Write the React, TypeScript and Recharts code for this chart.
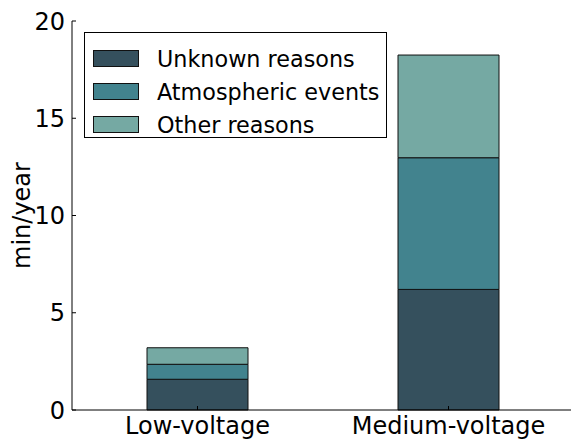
import { BarChart, Bar, XAxis, YAxis, Legend } from "recharts";

const categories = ["Low-voltage", "Medium-voltage"];
const unknownReasons = [1.58, 6.2];
const atmosphericEvents = [0.77, 6.77];
const otherReasons = [0.85, 5.28];
const yTicks = [0, 5, 10, 15, 20];

const seriesNames = ["Unknown reasons", "Atmospheric events", "Other reasons"];
const seriesColors = ["#35505d", "#42838e", "#75a9a3"];

const data = categories.map((name, i) => ({
  name,
  unknown: unknownReasons[i],
  atmos: atmosphericEvents[i],
  other: otherReasons[i],
}));

const FONT = "'DejaVu Sans', sans-serif";

function BottomTick(props: any) {
  const { x, y, payload } = props;
  return (
    <g>
      <line x1={x} x2={x} y1={y} y2={y - 4} stroke="#000" strokeWidth={1} />
      <text x={x} y={y + 24} textAnchor="middle" fontSize={24} fontFamily={FONT} fill="#000">
        {payload.value}
      </text>
    </g>
  );
}

function TopTick(props: any) {
  const { x, y } = props;
  return <line x1={x} x2={x} y1={y} y2={y + 4} stroke="#000" strokeWidth={1} />;
}

function LeftTick(props: any) {
  const { x, y, payload } = props;
  return (
    <g>
      <line x1={x} x2={x + 4} y1={y} y2={y} stroke="#000" strokeWidth={1} />
      <text x={x - 7} y={y + 8.5} textAnchor="end" fontSize={24} fontFamily={FONT} fill="#000">
        {payload.value}
      </text>
    </g>
  );
}

function RightTick(props: any) {
  const { x, y } = props;
  return <line x1={x} x2={x - 4} y1={y} y2={y} stroke="#000" strokeWidth={1} />;
}

function LegendBox() {
  return (
    <div
      style={{
        width: 303,
        height: 106,
        border: "1px solid #000",
        background: "#fff",
        boxSizing: "border-box",
        fontFamily: FONT,
        fontSize: 22,
        paddingTop: 9,
      }}
    >
      {seriesNames.map((n, i) => (
        <div key={n} style={{ display: "flex", alignItems: "center", height: 33 }}>
          <div
            style={{
              width: 46,
              height: 17,
              marginLeft: 8,
              marginRight: 18,
              background: seriesColors[i],
              border: "1px solid #111",
              boxSizing: "border-box",
            }}
          />
          <span style={{ lineHeight: "22px", fontSize: 22.3 }}>{n}</span>
        </div>
      ))}
    </div>
  );
}

export default function App() {
  return (
    <div style={{ position: "absolute", left: 0, top: 0, width: 571, height: 439, overflow: "hidden", background: "#fff" }}>
      <BarChart width={574} height={439} data={data} margin={{ top: 21, right: 0, bottom: 0, left: 0 }}>
        <XAxis
          dataKey="name"
          height={29}
          axisLine={{ stroke: "#000", strokeWidth: 1 }}
          tickLine={false}
          tickSize={0}
          tickMargin={0}
          tick={<BottomTick />}
          interval={0}
        />
        <XAxis
          xAxisId="top"
          dataKey="name"
          orientation="top"
          height={0}
          axisLine={{ stroke: "#000", strokeWidth: 1 }}
          tickLine={false}
          tickSize={0}
          tickMargin={0}
          tick={<TopTick />}
          interval={0}
        />
        <YAxis
          width={72}
          domain={[0, 20]}
          ticks={yTicks}
          axisLine={{ stroke: "#000", strokeWidth: 1 }}
          tickLine={false}
          tickSize={0}
          tickMargin={0}
          tick={<LeftTick />}
          label={{
            value: "min/year",
            angle: -90,
            position: "insideLeft",
            dx: 16,
            style: { fontSize: 24, fontFamily: FONT, fill: "#000", textAnchor: "middle" },
          }}
        />
        <YAxis
          yAxisId="right"
          orientation="right"
          width={0}
          domain={[0, 20]}
          ticks={yTicks}
          axisLine={false}
          tickLine={false}
          tickSize={0}
          tickMargin={0}
          tick={<RightTick />}
        />
        <Legend
          layout="vertical"
          align="center"
          verticalAlign="middle"
          content={<LegendBox />}
          wrapperStyle={{ left: 84, top: 32, width: 303 }}
        />
        <Bar dataKey="unknown" name={seriesNames[0]} stackId="a" fill={seriesColors[0]} stroke="#111" strokeWidth={1} barSize={101} isAnimationActive={false} />
        <Bar dataKey="atmos" name={seriesNames[1]} stackId="a" fill={seriesColors[1]} stroke="#111" strokeWidth={1} barSize={101} isAnimationActive={false} />
        <Bar dataKey="other" name={seriesNames[2]} stackId="a" fill={seriesColors[2]} stroke="#111" strokeWidth={1} barSize={101} isAnimationActive={false} />
      </BarChart>
    </div>
  );
}
